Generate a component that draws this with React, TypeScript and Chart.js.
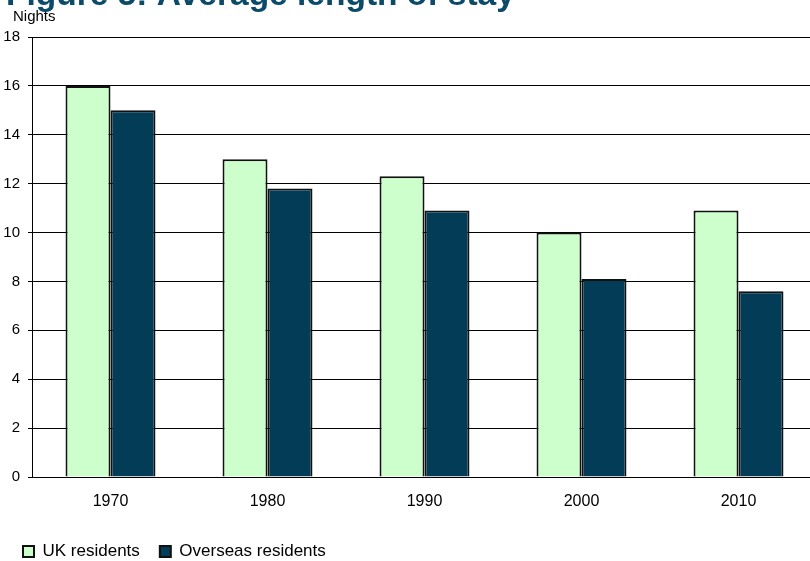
import React, { useEffect, useRef } from 'react';
import { Chart, registerables } from 'chart.js';

Chart.register(...registerables);

// Average length of stay in nights, by decade
const years = ['1970', '1980', '1990', '2000', '2010'];
const ukResidents = [16, 13, 12.3, 10, 10.9];
const overseasResidents = [15, 11.8, 10.9, 8.1, 7.6];
const seriesNames = ['UK residents', 'Overseas residents'];
const yMin = 0;
const yMax = 18;
const yStep = 2;
const titleText = 'Figure 5: Average length of stay';
const unitLabel = 'Nights';

const FONT = '"Liberation Sans", Arial, Helvetica, sans-serif';

// Heading and unit label painted onto the canvas above the plot area
const headingPlugin = {
  id: 'heading',
  afterDraw(chart: any) {
    const { ctx } = chart;
    ctx.save();
    ctx.textBaseline = 'alphabetic';
    ctx.textAlign = 'left';
    ctx.fillStyle = '#0b4a69';
    ctx.font = `bold 33.5px ${FONT}`;
    ctx.fillText(titleText, 6, 4.5);
    ctx.fillStyle = '#000';
    ctx.font = `15px ${FONT}`;
    ctx.fillText(unitLabel, 13, 21);
    ctx.restore();
  },
};

export default function App() {
  const canvasRef = useRef<HTMLCanvasElement | null>(null);

  useEffect(() => {
    if (!canvasRef.current) return;
    Chart.defaults.font.family = FONT;
    const chart = new Chart(canvasRef.current, {
      type: 'bar',
      data: {
        labels: years,
        datasets: [
          {
            label: seriesNames[0],
            data: ukResidents,
            backgroundColor: '#ccffcc',
            borderColor: '#111',
            borderWidth: 2,
            categoryPercentage: 0.573,
            barPercentage: 1,
          },
          {
            label: seriesNames[1],
            data: overseasResidents,
            backgroundColor: '#033c57',
            borderColor: '#111',
            borderWidth: 2,
            categoryPercentage: 0.573,
            barPercentage: 1,
          },
        ],
      },
      options: {
        animation: false,
        responsive: false,
        maintainAspectRatio: false,
        layout: { padding: { left: 3, right: 13, top: 37, bottom: 0 } },
        plugins: {
          title: { display: false },
          tooltip: { enabled: false },
          legend: {
            position: 'bottom',
            align: 'start',
            labels: {
              boxWidth: 11,
              boxHeight: 11,
              padding: 20,
              color: '#000',
              font: { size: 17, family: FONT },
            },
          },
        },
        scales: {
          x: {
            grid: { display: false },
            border: { display: true, color: '#000', width: 1 },
            ticks: { color: '#000', font: { size: 16, family: FONT }, padding: 7 },
            afterFit: (s: any) => {
              s.height = 46;
            },
          },
          y: {
            min: yMin,
            max: yMax,
            ticks: {
              stepSize: yStep,
              color: '#000',
              padding: 8,
              font: { size: 15, family: FONT },
            },
            grid: { color: '#000', lineWidth: 1, tickLength: 4, drawTicks: true },
            border: { display: true, color: '#000', width: 1 },
            afterFit: (s: any) => {
              s.width = 29;
            },
          },
        },
      },
      plugins: [headingPlugin],
    });
    return () => chart.destroy();
  }, []);

  return (
    <div
      style={{
        position: 'fixed',
        top: 0,
        left: 0,
        width: 810,
        height: 561,
        overflow: 'hidden',
        background: '#fff',
      }}
    >
      <canvas ref={canvasRef} width={830} height={570} style={{ display: 'block' }} />
    </div>
  );
}
